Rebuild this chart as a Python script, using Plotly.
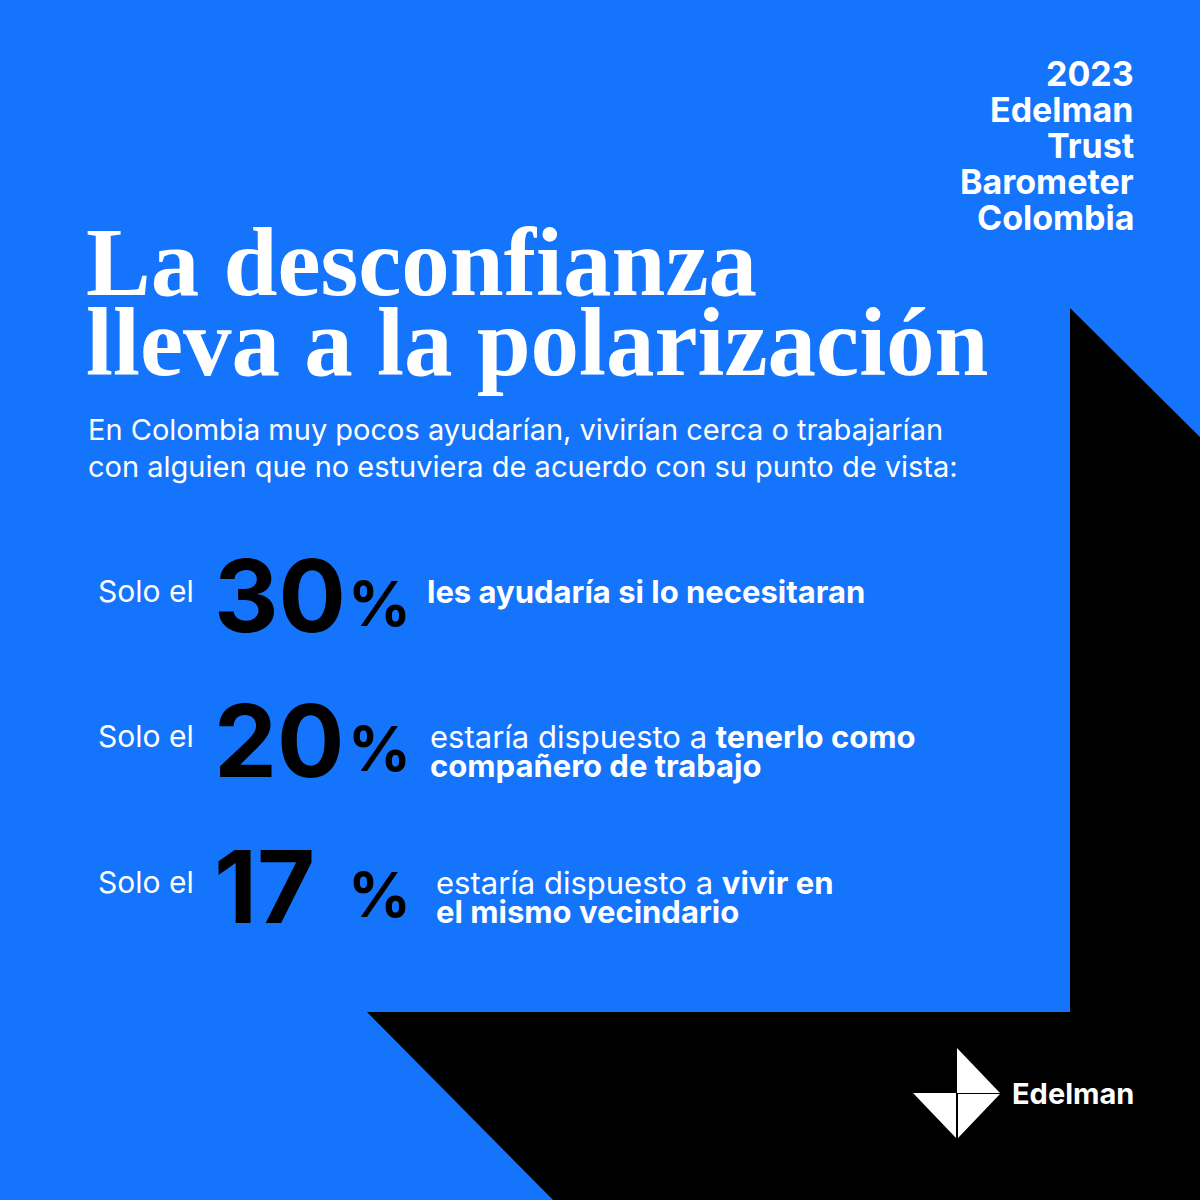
import plotly.graph_objects as go

BLUE = "#1474fb"
header = ["2023", "Edelman", "Trust", "Barometer", "Colombia"]
title_lines = ["La desconfianza", "lleva a la polarización"]
subtitle = ["En Colombia muy pocos ayudarían, vivirían cerca o trabajarían",
            "con alguien que no estuviera de acuerdo con su punto de vista:"]
pcts = [30, 20, 17]
plain_txt = ["", "estaría dispuesto a ", "estaría dispuesto a "]
bold_txt = [["les ayudaría si lo necesitaran"],
            ["tenerlo como", "compañero de trabajo"],
            ["vivir en", "el mismo vecindario"]]
row_y = [591, 736, 882]
text_x = [425, 428, 434]

fig = go.Figure()
fig.update_xaxes(range=[0, 1200], visible=False)
fig.update_yaxes(range=[1200, 0], visible=False)

shapes = [
    dict(type="path", path="M1070,308 L1200,437 L1200,1200 L553,1200 L367,1012 L1070,1012 Z",
         fillcolor="black", line_width=0, layer="below"),
    dict(type="path", path="M957,1048 L1000,1093 L957,1093 Z", fillcolor="white", line_width=0),
    dict(type="path", path="M913,1093 L956,1093 L956,1138 Z", fillcolor="white", line_width=0),
    dict(type="path", path="M958,1094 L1000,1094 L958,1138 Z", fillcolor="white", line_width=0),
]

ann = []
def T(x, y, s, size, fam="Inter", color="white", xa="left", ya="middle"):
    ann.append(dict(x=x, y=y, xref="x", yref="y", text=s, showarrow=False, xanchor=xa, yanchor=ya,
                    font=dict(size=size, family=fam, color=color)))

for i, h in enumerate(header):
    T(1136, 73 + i * 36, "<b>" + h + "</b>", 34, xa="right")
for i, t in enumerate(title_lines):
    T(84, 262 + i * 80, "<b>" + t + "</b>", 97, fam="Liberation Serif")
for i, s in enumerate(subtitle):
    T(86, 429 + i * 37, s, 29)
for i, p in enumerate(pcts):
    y = row_y[i]
    T(96, y, "Solo el", 30)
    T(212, y + 4, "<b>%d</b>" % p, 100, color="black")
    T(346, y + 12, "<b>%</b>", 62, color="black")
    b = bold_txt[i]
    if len(b) == 1:
        T(text_x[i], y, "<b>" + b[0] + "</b>", 31)
    else:
        T(text_x[i], y, plain_txt[i] + "<b>" + b[0] + "</b>", 31)
        T(text_x[i], y + 29, "<b>" + b[1] + "</b>", 31)
T(1010, 1093, "<b>Edelman</b>", 29)

fig.update_layout(width=1200, height=1200, margin=dict(l=0, r=0, t=0, b=0),
                  paper_bgcolor=BLUE, plot_bgcolor=BLUE, shapes=shapes, annotations=ann,
                  showlegend=False)
fig.write_html("out.html", config={"displayModeBar": False},
               post_script="document.body.style.margin='0';")
